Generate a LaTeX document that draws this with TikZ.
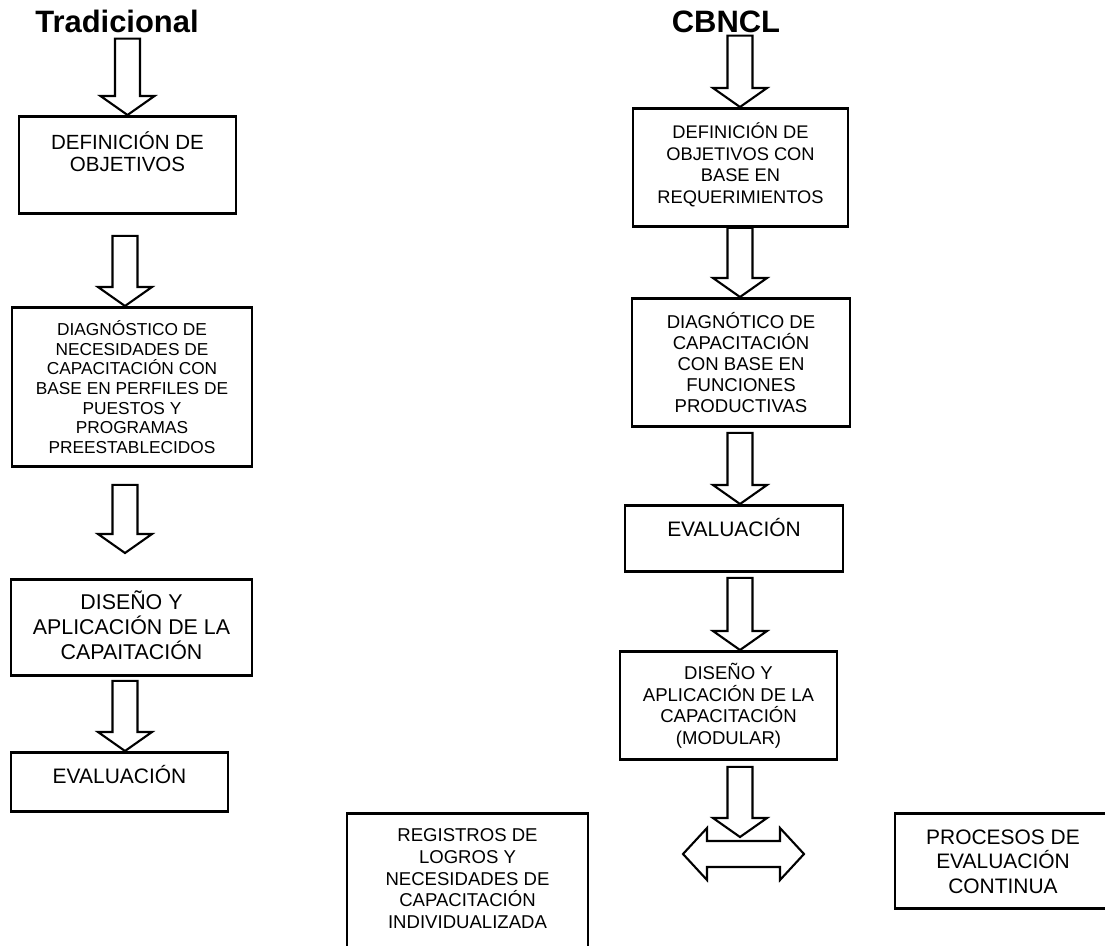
\documentclass[tikz,border=0pt]{standalone}
\usepackage{fontspec}
\setmainfont{Liberation Sans}
\usepackage{tikz}
\usetikzlibrary{calc}
\tikzset{
  stage/.style={draw, line width=2pt, inner sep=0pt, anchor=north, align=center, fill=white},
  heading/.style={font=\fontsize{22pt}{26pt}\selectfont\bfseries, inner sep=0pt, anchor=base},
  blk/.style={draw, line width=1.5pt, fill=white, line join=miter},
  fsmall/.style={font=\fontsize{12.3pt}{14pt}\selectfont},
  fmid/.style={font=\fontsize{13.2pt}{15.4pt}\selectfont},
  fbig/.style={font=\fontsize{14.9pt}{17.4pt}\selectfont},
}
% hollow block arrow: #1 top of shaft, #2 tip
\newcommand{\blockdown}[2]{%
  \draw[blk] let \p1=(#1), \p2=(#2) in
    (\x2,\y1) ++(-12.5,0) -- ++(25,0) -- (\x2+0.3125cm,\y2+0.475cm) -- ++(14.5,0)
    -- (\x2,\y2) -- ++(-27,-19) -- ++(14.5,0) -- cycle;}

\begin{document}
\begin{tikzpicture}[x=0.025cm, y=-0.025cm]
\useasboundingbox (0,0) rectangle (1105,946);
\clip (0,0) rectangle (1105,946);
\coordinate (colL) at (125,0);
\coordinate (colR) at (740,0);
\coordinate (link) at (743.5,854);

% titles
\node[heading] (T) at (117,33) {Tradicional};
\node[heading] (C) at (726,33) {CBNCL};

% traditional
\node[stage, font=\fontsize{14.6pt}{15.4pt}\selectfont, minimum width=5.425cm, text height=1.375cm, text depth=1.05cm] (L1) at (127.5,115) {DEFINICIÓN DE\\OBJETIVOS};
\node[stage, fsmall, minimum width=6cm, text height=3.65cm, text depth=0.325cm] (L2) at (132,306) {DIAGNÓSTICO DE\\NECESIDADES DE\\CAPACITACIÓN CON\\BASE EN PERFILES DE\\PUESTOS Y\\PROGRAMAS\\PREESTABLECIDOS};
\node[stage, font=\fontsize{15.2pt}{17.8pt}\selectfont, minimum width=6.025cm, text height=2cm, text depth=0.4cm] (L3) at (131.5,578) {DISEÑO Y\\APLICACIÓN DE LA\\CAPAITACIÓN};
\node[stage, fbig, minimum width=5.425cm, text height=0.7675cm, text depth=0.7075cm] (L4) at (119.5,751) {EVALUACIÓN};

% CBNCL
\node[stage, font=\fontsize{13pt}{15.4pt}\selectfont, minimum width=5.375cm, text height=2.375cm, text depth=0.575cm] (R1) at (740.5,107) {DEFINICIÓN DE\\OBJETIVOS CON\\BASE EN\\REQUERIMIENTOS};
\node[stage, font=\fontsize{13.2pt}{14.9pt}\selectfont, minimum width=5.45cm, text height=2.85cm, text depth=0.35cm] (R2) at (741,297) {DIAGNÓTICO DE\\CAPACITACIÓN\\CON BASE EN\\FUNCIONES\\PRODUCTIVAS};
\node[stage, fbig, minimum width=5.45cm, text height=0.775cm, text depth=0.875cm] (R3) at (734,504) {EVALUACIÓN};
\node[stage, fmid, minimum width=5.425cm, text height=2.325cm, text depth=0.375cm] (R4) at (728.5,650) {DISEÑO Y\\APLICACIÓN DE LA\\CAPACITACIÓN\\(MODULAR)};

% bottom row
\node[stage, fmid, minimum width=6.025cm, text height=2.875cm, text depth=0.825cm] (REG) at (467.5,812) {REGISTROS DE\\LOGROS Y\\NECESIDADES DE\\CAPACITACIÓN\\INDIVIDUALIZADA};
\node[stage, fbig, minimum width=5.4cm, text height=2cm, text depth=0.375cm] (PROC) at (1003,812) {PROCESOS DE\\EVALUACIÓN\\CONTINUA};

% arrows
\blockdown{$(L1.north |- T.south)+(0,5)$}{L1.north}
\blockdown{$(colL |- L1.south)+(0,21)$}{colL |- L2.north}
\blockdown{$(colL |- L2.south)+(0,17)$}{$(colL |- L3.north)+(0,-25)$}
\blockdown{$(colL |- L3.south)+(0,4)$}{colL |- L4.north}
\blockdown{$(colR |- C.south)+(0,2)$}{colR |- R1.north}
\blockdown{colR |- R1.south}{colR |- R2.north}
\blockdown{$(colR |- R2.south)+(0,5)$}{colR |- R3.north}
\blockdown{$(colR |- R3.south)+(0,5)$}{colR |- R4.north}
\draw[blk] (link) ++(-60.5,0) -- ++(24,-26) -- ++(0,13) -- ++(73,0) -- ++(0,-13)
  -- ++(24,26) -- ++(-24,26) -- ++(0,-13) -- ++(-73,0) -- ++(0,13) -- cycle;
\blockdown{$(colR |- R4.south)+(0,6)$}{$(colR |- link)+(0,-17)$}
\end{tikzpicture}
\end{document}
